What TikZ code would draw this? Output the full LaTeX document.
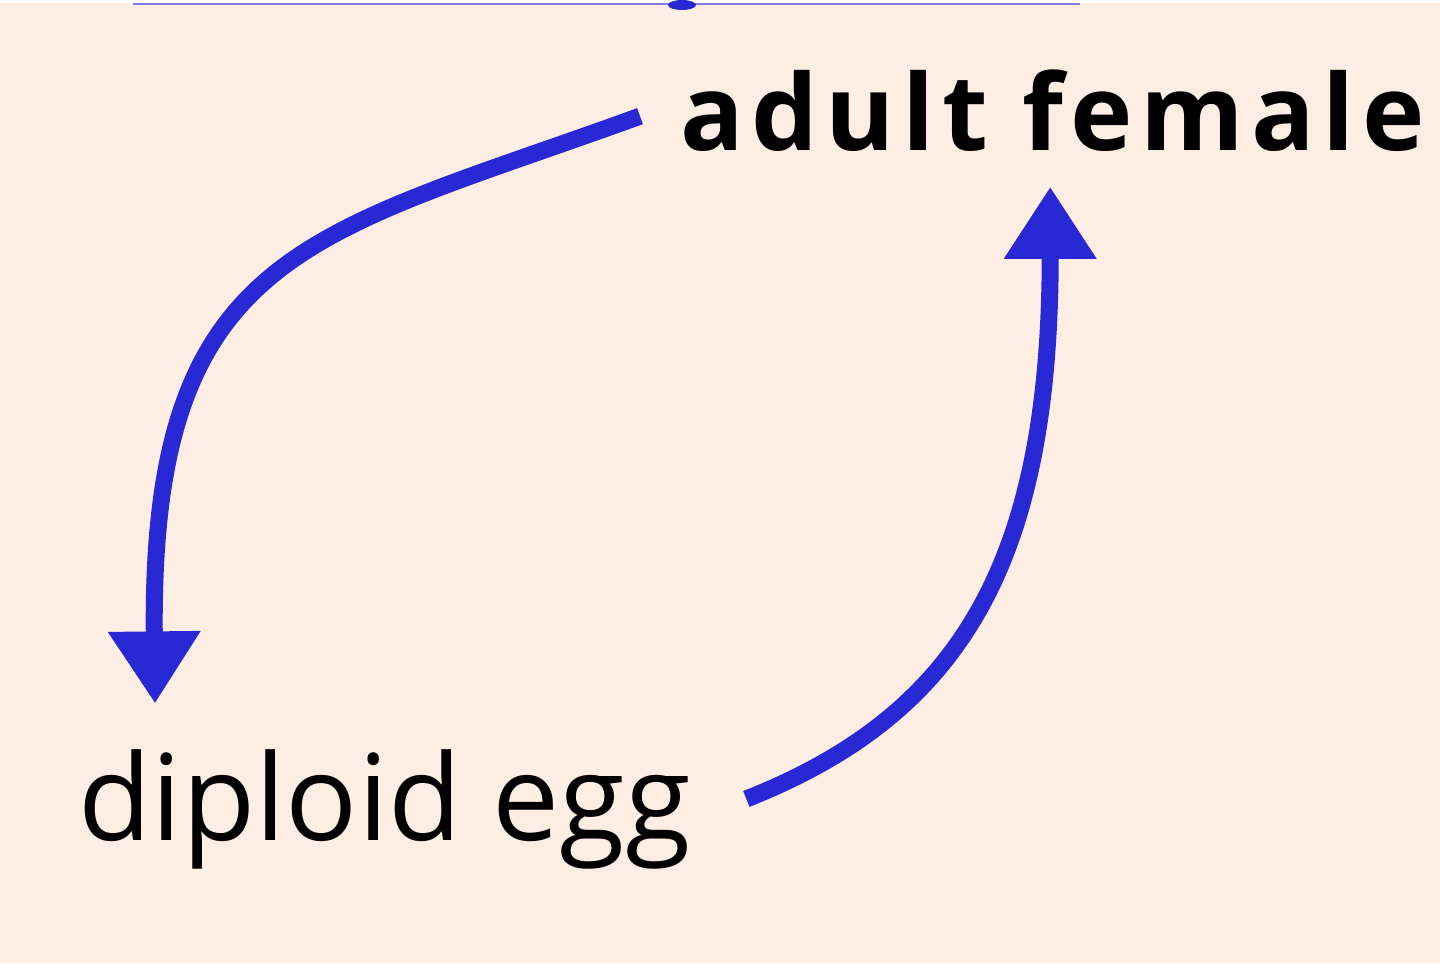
\documentclass[tikz,border=0pt]{standalone}
\usepackage{fontspec}
\setmainfont{Open Sans}
\usetikzlibrary{arrows.meta}
\definecolor{peach}{RGB}{253,237,227}
\definecolor{cycleblue}{RGB}{40,40,212}
\begin{document}
\begin{tikzpicture}[x=0.01cm,y=-0.01cm,
    stage/.style={inner sep=0pt,anchor=base west,text=black},
    cycle/.style={draw=cycleblue,line width=0.17cm,-{Triangle[width=0.88cm,length=0.72cm]}}]
  \fill[peach] (0,0) rectangle (1440,963);
  \useasboundingbox (0,0) rectangle (1440,963);
  \fill[white] (0,0) rectangle (1440,3);
  \draw[cycleblue!60,line width=0.6pt] (133,4) -- (1080,4);
  \fill[cycleblue] (682,5) ellipse (14 and 5);
  \draw
    (680,150) node[stage,font=\fontsize{30}{34}\bfseries\addfontfeature{LetterSpace=7}] (female){adult female}
    (78,840) node[stage,font=\fontsize{34}{40}\selectfont] (egg){diploid egg};
  \begin{scope}[cycle]
    \draw ([xshift=-0.4cm,yshift=-0.06cm]female.west)
      .. controls +(-330,120) and +(-5,-455) .. ([xshift=0.77cm,yshift=0.45cm]egg.north west);
    \draw ([xshift=0.55cm,yshift=0.1cm]egg.east)
      .. controls +(215,-85) and +(0,375) .. ([xshift=3.7cm,yshift=-0.35cm]female.south west);
  \end{scope}
\end{tikzpicture}
\end{document}
